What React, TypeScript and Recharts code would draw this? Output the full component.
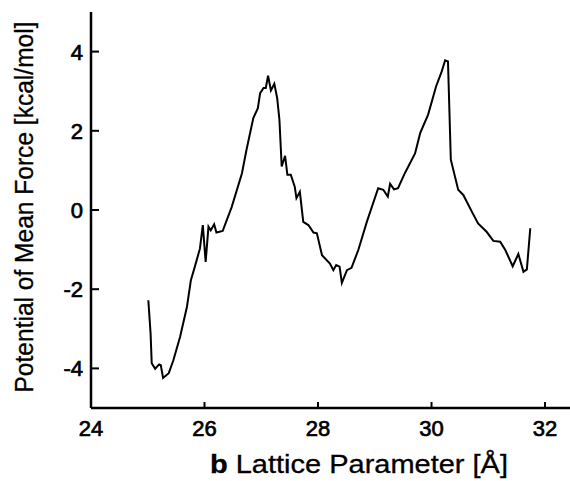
import { Label, Line, LineChart, XAxis, YAxis } from 'recharts'

// lattice parameter b [Å] vs potential of mean force [kcal/mol]
const latticeParam = [
  25.01, 25.05, 25.07, 25.13, 25.2, 25.23, 25.27, 25.37, 25.45, 25.57,
  25.69, 25.76, 25.83, 25.92, 25.97, 26.02, 26.07, 26.11, 26.17, 26.21,
  26.32, 26.48, 26.66, 26.74, 26.86, 26.94, 26.98, 27.04, 27.08, 27.12,
  27.17, 27.23, 27.28, 27.32, 27.36, 27.42, 27.46, 27.52, 27.59, 27.62,
  27.68, 27.74, 27.83, 27.92, 27.98, 28.07, 28.21, 28.27, 28.32, 28.38,
  28.42, 28.51, 28.59, 28.71, 28.86, 29.06, 29.15, 29.23, 29.27, 29.34,
  29.41, 29.53, 29.71, 29.8, 29.94, 30.08, 30.18, 30.24, 30.29, 30.34,
  30.47, 30.56, 30.71, 30.82, 30.97, 31.09, 31.21, 31.3, 31.43, 31.53,
  31.62, 31.68, 31.74,
]
const pmf = [
  -2.28, -3.12, -3.87, -4.01, -3.9, -3.92, -4.24, -4.12, -3.8, -3.2,
  -2.45, -1.77, -1.43, -0.97, -0.38, -1.31, -0.42, -0.51, -0.36, -0.57,
  -0.53, 0.08, 0.93, 1.52, 2.32, 2.57, 2.95, 3.08, 3.08, 3.39,
  3.02, 3.19, 2.83, 2.28, 1.1, 1.37, 0.89, 0.89, 0.59, 0.3,
  0.46, -0.3, -0.38, -0.57, -0.59, -1.14, -1.35, -1.52, -1.39, -1.43,
  -1.84, -1.52, -1.46, -1.01, -0.3, 0.55, 0.51, 0.34, 0.66, 0.52,
  0.55, 0.93, 1.43, 1.94, 2.41, 3.12, 3.5, 3.78, 3.75, 1.27,
  0.51, 0.38, -0.04, -0.34, -0.55, -0.78, -0.8, -1.01, -1.42, -1.11,
  -1.56, -1.5, -0.46,
]
const xTicks = [24, 26, 28, 30, 32]
const yTicks = [-4, -2, 0, 2, 4]

const chartData = latticeParam.map((x, i) => ({ x, pmf: pmf[i] }))

const font = '"Liberation Sans", Arial, Helvetica, sans-serif'

function XTick({ x, y, payload }: { x?: number; y?: number; payload?: { value: number } }) {
  return (
    <g>
      <line x1={x} y1={y} x2={x} y2={(y ?? 0) - 6} stroke="#000" strokeWidth={2} />
      <text x={x} y={(y ?? 0) + 28} textAnchor="middle" fontFamily={font} fontSize={22} fill="#000" stroke="#000" strokeWidth={0.7}>
        {payload?.value}
      </text>
    </g>
  )
}

function YTick({ x, y, payload }: { x?: number; y?: number; payload?: { value: number } }) {
  return (
    <g>
      <line x1={x} y1={y} x2={(x ?? 0) + 8} y2={y} stroke="#000" strokeWidth={2} />
      <text x={(x ?? 0) - 8} y={y} dy="0.36em" textAnchor="end" fontFamily={font} fontSize={22} fill="#000" stroke="#000" strokeWidth={0.7}>
        {payload?.value}
      </text>
    </g>
  )
}

export default function App() {
  return (
    <div style={{ position: 'absolute', left: 0, top: 0, background: '#fff' }}>
      <LineChart width={570} height={481} data={chartData} margin={{ top: 12, right: 0, bottom: 0, left: 0 }}>
        <XAxis
          dataKey="x"
          type="number"
          domain={[24, 32.44]}
          ticks={xTicks}
          allowDataOverflow
          height={73}
          tickSize={0}
          tickMargin={0}
          tickLine={false}
          axisLine={{ stroke: '#000', strokeWidth: 2.5 }}
          tick={<XTick />}
        >
          <Label
            content={() => (
              <text x={359} y={473} textAnchor="middle" fontFamily={font} fontSize={25} fill="#000" stroke="#000" strokeWidth={0.3} textLength={298} lengthAdjust="spacingAndGlyphs">
                <tspan fontWeight="bold">b</tspan> Lattice Parameter [Å]
              </text>
            )}
          />
        </XAxis>
        <YAxis
          type="number"
          domain={[-5, 5]}
          ticks={yTicks}
          allowDataOverflow
          width={91}
          tickSize={0}
          tickMargin={0}
          tickLine={false}
          axisLine={{ stroke: '#000', strokeWidth: 2.5 }}
          tick={<YTick />}
        >
          <Label
            content={() => (
              <text x={33} y={207} transform="rotate(-90, 33, 207)" textAnchor="middle" fontFamily={font} fontSize={25} fill="#000" stroke="#000" strokeWidth={0.3} textLength={371} lengthAdjust="spacingAndGlyphs">
                Potential of Mean Force [kcal/mol]
              </text>
            )}
          />
        </YAxis>
        <Line type="linear" dataKey="pmf" stroke="#000" strokeWidth={2} dot={false} isAnimationActive={false} />
      </LineChart>
    </div>
  )
}
